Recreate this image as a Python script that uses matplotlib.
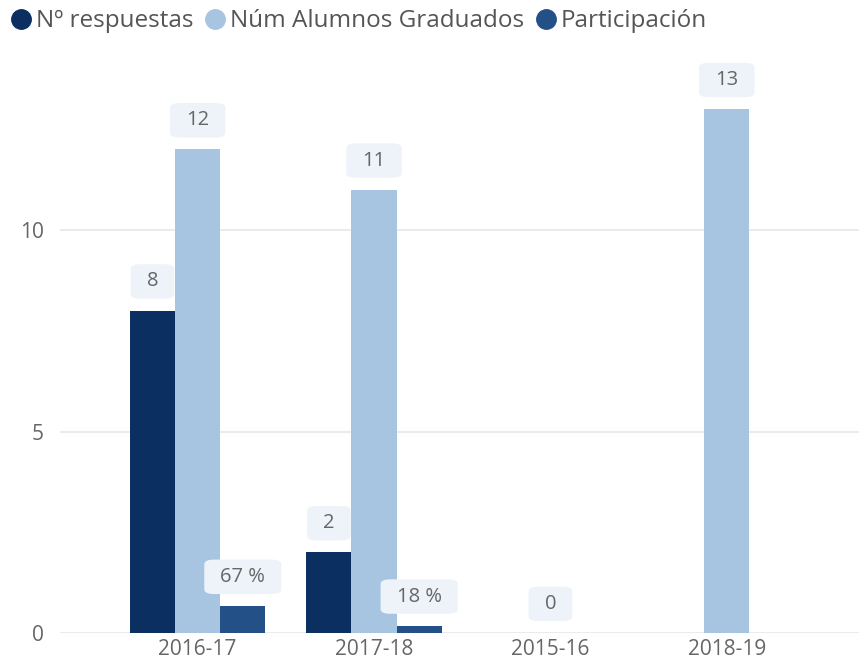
import matplotlib.pyplot as plt
from matplotlib.lines import Line2D
import numpy as np

categories = ['2016-17', '2017-18', '2015-16', '2018-19']
respuestas = [8, 2, None, None]
graduados = [12, 11, 0, 13]
participacion = [0.67, 0.18, None, None]

plt.rcParams['font.family'] = ['Open Sans', 'DejaVu Sans']

c_resp = '#0b2f61'
c_grad = '#a7c4e0'
c_part = '#235087'
txt = '#666666'

fig = plt.figure(figsize=(8.59, 6.67), dpi=100)
ax = fig.add_axes([0.07, 0.051, 0.93, 0.8457])

x = np.arange(len(categories))
w = 0.256


def add_label(xp, val, text):
    ax.annotate(text, (xp, val), xytext=(0, 21), textcoords='offset points',
                ha='center', va='center', fontsize=14.5, color=txt,
                bbox=dict(boxstyle='round,pad=0.8,rounding_size=0.5',
                          mutation_aspect=0.45, fc='#eef3f9', ec='none'))


for i in range(len(categories)):
    if respuestas[i] is not None:
        ax.bar(x[i] - w, respuestas[i], w, color=c_resp, zorder=2)
        add_label(x[i] - w, respuestas[i], str(respuestas[i]))
    if graduados[i] is not None:
        ax.bar(x[i], graduados[i], w, color=c_grad, zorder=2)
        add_label(x[i], graduados[i], str(graduados[i]))
    if participacion[i] is not None:
        ax.bar(x[i] + w, participacion[i], w, color=c_part, zorder=2)
        add_label(x[i] + w, participacion[i], '%d %%' % round(participacion[i] * 100))

ax.set_xlim(-0.78, 3.75)
ax.set_ylim(0, 14)
ax.set_yticks([0, 5, 10])
ax.set_xticks(x)
ax.set_xticklabels(categories)
ax.tick_params(length=0, labelsize=15, colors=txt)
ax.tick_params(axis='x', pad=4)
ax.tick_params(axis='y', pad=12)
ax.grid(axis='y', color='#e8e8e8', linewidth=1.2, zorder=0)
for s in ax.spines.values():
    s.set_visible(False)

handles = [Line2D([], [], marker='o', ls='none', color=c, markersize=14)
           for c in [c_resp, c_grad, c_part]]
fig.legend(handles, ['Nº respuestas', 'Núm Alumnos Graduados', 'Participación'],
           loc='upper left', bbox_to_anchor=(-0.016, 1.012), ncol=3, frameon=False,
           fontsize=17.5, handletextpad=-0.15, columnspacing=0.15, handlelength=1.5,
           labelcolor='#555555', borderaxespad=0.3)

plt.savefig('out.png')
